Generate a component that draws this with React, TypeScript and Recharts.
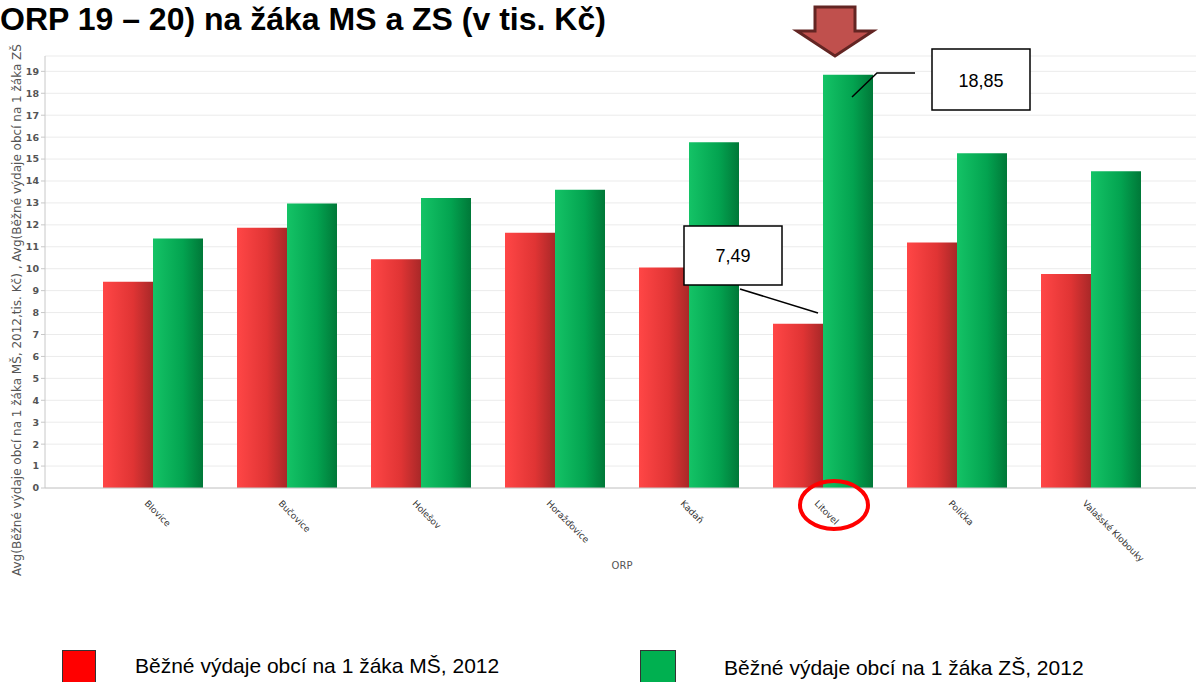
import React from 'react'
import { BarChart, Bar, XAxis, YAxis, CartesianGrid } from 'recharts'

const categories = ['Blovice', 'Bučovice', 'Holešov', 'Horažďovice', 'Kadaň', 'Litovel', 'Polička', 'Valašské Klobouky']
const msValues = [9.41, 11.87, 10.43, 11.64, 10.05, 7.49, 11.19, 9.76]
const zsValues = [11.38, 12.97, 13.22, 13.6, 15.77, 18.85, 15.27, 14.44]
const yTicks = [0, 1, 2, 3, 4, 5, 6, 7, 8, 9, 10, 11, 12, 13, 14, 15, 16, 17, 18, 19]

const data = categories.map((name, i) => ({ name, ms: msValues[i], zs: zsValues[i] }))

const XTick = (props: any) => {
  const { x, y, payload } = props
  return (
    <g transform={`translate(${x - 7},${y + 6})`}>
      <text transform="rotate(45)" textAnchor="start" fontSize={9} fill="#333" fontFamily="DejaVu Sans" dy={3}>
        {payload.value}
      </text>
    </g>
  )
}

export default function App() {
  return (
    <div style={{ position: 'fixed', left: 0, top: 0, width: 1196, height: 682, background: '#fff', overflow: 'hidden', fontFamily: 'Liberation Sans, Arial, sans-serif' }}>
      <div style={{ position: 'absolute', left: 0, top: 1, fontSize: 32, lineHeight: '36px', fontWeight: 'bold', color: '#000', whiteSpace: 'nowrap' }}>
        ORP 19 – 20) na žáka MS a ZS (v tis. Kč)
      </div>
      <BarChart
        width={1196}
        height={682}
        data={data}
        margin={{ top: 56, right: 0, left: 20, bottom: 164 }}
        barGap={0}
        barCategoryGap={17}
        style={{ position: 'absolute', left: 0, top: 0 }}
      >
        <defs>
          <linearGradient id="gRed" x1="0" y1="0" x2="1" y2="0">
            <stop offset="0%" stopColor="#ff4646" />
            <stop offset="60%" stopColor="#e03434" />
            <stop offset="100%" stopColor="#a82828" />
          </linearGradient>
          <linearGradient id="gGreen" x1="0" y1="0" x2="1" y2="0">
            <stop offset="0%" stopColor="#14c366" />
            <stop offset="60%" stopColor="#03a350" />
            <stop offset="100%" stopColor="#007838" />
          </linearGradient>
        </defs>
        <CartesianGrid vertical={false} stroke="#ebebeb" />
        <XAxis
          dataKey="name"
          interval={0}
          padding={{ left: 41, right: 38 }}
          tick={<XTick />}
          tickLine={false}
          axisLine={{ stroke: '#c8c8c8' }}
        />
        <YAxis
          width={25}
          domain={[0, 19.7]}
          ticks={yTicks}
          interval={0}
          tick={{ fontSize: 9.5, fill: '#555', fontFamily: 'DejaVu Sans', fontWeight: 'bold' }}
          tickSize={4}
          tickLine={{ stroke: '#c8c8c8' }}
          axisLine={{ stroke: '#c8c8c8' }}
        />
        <Bar dataKey="ms" fill="url(#gRed)" isAnimationActive={false} />
        <Bar dataKey="zs" fill="url(#gGreen)" isAnimationActive={false} />
      </BarChart>

      <svg width={1196} height={682} style={{ position: 'absolute', left: 0, top: 0, pointerEvents: 'none' }}>
        <text transform="translate(21,576) rotate(-90)" fontSize={12} fill="#555" fontFamily="DejaVu Sans">
          Avg(Běžné výdaje obcí na 1 žáka MŠ, 2012,tis. Kč) , Avg(Běžné výdaje obcí na 1 žáka ZŠ
        </text>
        <text x={622} y={569} fontSize={10} fill="#555" fontFamily="DejaVu Sans" textAnchor="middle">ORP</text>

        {/* arrow */}
        <polygon points="815,7 855,7 855,31 873,31 835,56 797,31 815,31" fill="#c0504d" stroke="#632523" strokeWidth={3} />

        {/* callout 18,85 */}
        <polyline points="852,97 877,73 915,73" fill="none" stroke="#000" strokeWidth={1.5} />
        <rect x={932} y={49} width={98} height={61} fill="#fff" stroke="#000" strokeWidth={1.5} />
        <text x={981} y={87} textAnchor="middle" fontSize={18} fontFamily="Liberation Sans">18,85</text>

        {/* callout 7,49 */}
        <line x1={740} y1={289} x2={818} y2={313} stroke="#000" strokeWidth={1.5} />
        <rect x={684} y={226} width={98} height={59} fill="#fff" stroke="#000" strokeWidth={1.5} />
        <text x={733} y={262} textAnchor="middle" fontSize={18} fontFamily="Liberation Sans">7,49</text>

        {/* circle around Litovel */}
        <ellipse cx={834} cy={505} rx={34} ry={24} fill="none" stroke="#ff0000" strokeWidth={4} />
      </svg>

      <div style={{ position: 'absolute', left: 62, top: 650, width: 34, height: 34, background: '#ff0000', border: '1px solid #333', boxSizing: 'border-box' }} />
      <div style={{ position: 'absolute', left: 135, top: 654, fontSize: 21, color: '#000', whiteSpace: 'nowrap' }}>
        Běžné výdaje obcí na 1 žáka MŠ, 2012
      </div>
      <div style={{ position: 'absolute', left: 640, top: 650, width: 36, height: 34, background: '#00b050', border: '1px solid #333', boxSizing: 'border-box' }} />
      <div style={{ position: 'absolute', left: 724, top: 656, fontSize: 21, color: '#000', whiteSpace: 'nowrap' }}>
        Běžné výdaje obcí na 1 žáka ZŠ, 2012
      </div>
    </div>
  )
}
